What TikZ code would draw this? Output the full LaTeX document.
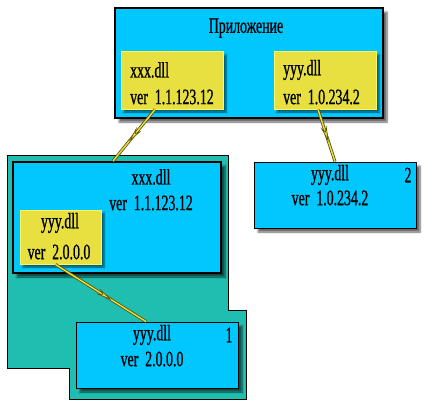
\documentclass[tikz,border=0pt]{standalone}
\usepackage{fontspec}
\setmainfont[FakeStretch=0.63,FakeBold=0.8]{Liberation Serif}
\usetikzlibrary{arrows.meta,decorations.markings,shadows.blur}
\definecolor{boxblue}{RGB}{0,200,255}
\definecolor{areateal}{RGB}{32,190,176}
\definecolor{dllyellow}{RGB}{232,224,64}
\definecolor{lineolive}{RGB}{90,80,10}
\tikzset{
  mainbox/.style={draw=black,line width=1.8pt,fill=boxblue,inner sep=0pt,
    blur shadow={shadow xshift=4pt,shadow yshift=-4pt,shadow blur steps=6,shadow opacity=60}},
  copybox/.style={draw=black,line width=0.8pt,fill=boxblue,inner sep=0pt,
    blur shadow={shadow xshift=4pt,shadow yshift=-4pt,shadow blur steps=6,shadow opacity=60}},
  dllbox/.style={draw=yellow!60!white,line width=1pt,fill=dllyellow,inner sep=0pt,
    blur shadow={shadow xshift=3pt,shadow yshift=-3pt,shadow blur steps=5,shadow opacity=60}},
  txt/.style={font=\fontsize{22}{23}\selectfont,inner sep=0pt},
  ref/.style={draw=dllyellow,line width=1.4pt,
    preaction={draw=lineolive,line width=3pt},
    postaction={decorate,decoration={markings,mark=at position 0.62 with
      {\arrow{Stealth[length=16pt,width=6pt,fill=dllyellow,color=lineolive,line width=0.6pt]}}}}}
}
\begin{document}
\begin{tikzpicture}[x=1pt,y=-1pt]
  \useasboundingbox (0,0) rectangle (425,404);
  % Application
  \node[mainbox,minimum width=268pt,minimum height=110pt] (app) at (249,63) {};
  \node[txt] (appname) at (246,28) {Приложение};
  \node[dllbox,minimum width=102pt,minimum height=57pt] (xxxref) at (172,80.5) {};
  \node[txt,anchor=west] (xxxname) at (130,70) {xxx.dll};
  \node[txt,anchor=west] (xxxver) at (130,97) {ver\ \ 1.1.123.12};
  \node[dllbox,minimum width=102pt,minimum height=57pt] (yyyref) at (325,80.5) {};
  \node[txt,anchor=west] (yyyname) at (283,70) {yyy.dll};
  \node[txt,anchor=west] (yyyver) at (283,97) {ver\ \ 1.0.234.2};
  % Private area of xxx.dll
  \draw[fill=areateal,line width=0.6pt] (7,155) -- (228,155) -- (228,310) -- (246,310)
    -- (246,399) -- (69,399) -- (69,368) -- (7,368) -- cycle;
  \node[mainbox,minimum width=208pt,minimum height=111pt] (xxxlib) at (117,217.5) {};
  \node[txt] (libname) at (151,177) {xxx.dll};
  \node[txt] (libver) at (151,203) {ver\ \ 1.1.123.12};
  \node[dllbox,minimum width=81pt,minimum height=54pt] (innerref) at (60.5,237) {};
  \node[txt] (innername) at (60,223) {yyy.dll};
  \node[txt] (innerver) at (59,252) {ver\ \ 2.0.0.0};
  % Loaded copy 1
  \node[copybox,minimum width=162pt,minimum height=66pt] (copyone) at (157,355) {};
  \node[txt] (onename) at (152,335) {yyy.dll};
  \node[txt] (onever) at (152,359) {ver\ \ 2.0.0.0};
  \node[txt] (onenum) at (229,335) {1};
  % Loaded copy 2
  \node[copybox,minimum width=162pt,minimum height=66pt] (copytwo) at (335,195) {};
  \node[txt] (twoname) at (330,175) {yyy.dll};
  \node[txt] (twover) at (330,198) {ver\ \ 1.0.234.2};
  \node[txt] (twonum) at (408,175) {2};
  % References
  \draw[ref] ([xshift=-17pt]xxxref.south) -- ([xshift=-4pt]xxxlib.north);
  \draw[ref] ([xshift=-7pt]yyyref.south) -- (copytwo.north);
  \draw[ref] ([xshift=-5pt]innerref.south) -- ([xshift=-11pt]copyone.north);
\end{tikzpicture}
\end{document}
